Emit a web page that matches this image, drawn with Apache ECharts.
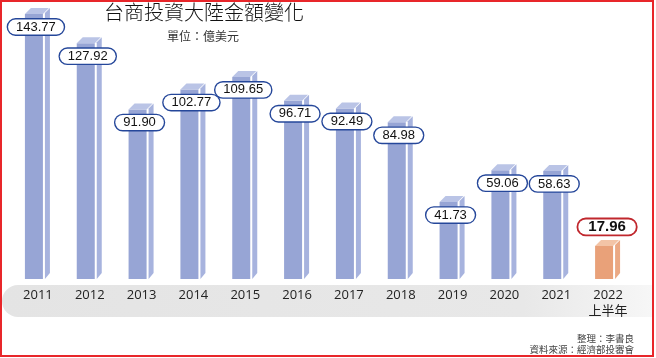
<!DOCTYPE html>
<html>
<head>
<meta charset="utf-8">
<script src="https://cdn.jsdelivr.net/npm/echarts@6/dist/echarts.min.js"></script>
<style>
  html, body { margin: 0; padding: 0; background: #fff; }
  #chart { width: 656px; height: 358px; }
</style>
</head>
<body>
<div id="chart"></div>
<script>
// 資料
var years = ['2011', '2012', '2013', '2014', '2015', '2016', '2017', '2018', '2019', '2020', '2021', '2022\n上半年'];
var values = [143.77, 127.92, 91.90, 102.77, 109.65, 96.71, 92.49, 84.98, 41.73, 59.06, 58.63, 17.96];

var blue = { front: '#97a5d5', side: '#a7b3de', top: '#bac4e6' };
var orange = { front: '#e9a179', side: '#eba984', top: '#f3c4a6' };

// 立體柱 + 標籤
function renderBar(params, api) {
  var i = api.value(0);
  var v = api.value(1);
  var top = api.coord([i, v]);
  var base = api.coord([i, 0]);
  var c = top[0], yt = top[1], yb = base[1];
  var last = i === values.length - 1;
  var col = last ? orange : blue;
  var label = last ? {
    type: 'text', x: c - 1, y: yt - 19, z2: 10,
    style: {
      text: v.toFixed(2), align: 'center', verticalAlign: 'middle',
      font: 'bold 15px "Liberation Sans", Arial', fill: '#111',
      backgroundColor: '#fff', borderColor: '#c0272d', borderWidth: 1.8,
      borderRadius: 8, padding: [0, 10]
    }
  } : {
    type: 'text', x: c - 2, y: yt + 13, z2: 10,
    style: {
      text: v.toFixed(2), align: 'center', verticalAlign: 'middle',
      font: '13px "Liberation Sans", Arial', fill: '#111',
      backgroundColor: '#fff', borderColor: '#25479a', borderWidth: 1.4,
      borderRadius: 8, padding: [1, 8]
    }
  };
  return {
    type: 'group',
    children: [
      { type: 'rect', shape: { x: c - 13, y: yt, width: 18, height: yb - yt }, style: { fill: col.front } },
      { type: 'polygon', shape: { points: [[c + 7, yt - 1], [c + 12, yt - 6], [c + 12, yb - 6], [c + 7, yb]] }, style: { fill: col.side } },
      { type: 'polygon', shape: { points: [[c - 13, yt], [c + 5, yt], [c + 11, yt - 6], [c - 7, yt - 6]] }, style: { fill: col.top } },
      label
    ]
  };
}

var chart = echarts.init(document.getElementById('chart'));
var option = {
  animation: false,
  grid: { left: 12, right: 22, top: 2.5, bottom: 79 },
  xAxis: {
    type: 'category',
    data: years,
    axisLine: { show: false },
    axisTick: { show: false },
    axisLabel: {
      margin: 8, color: '#222', fontSize: 13, lineHeight: 16,
      fontFamily: '"Open Sans", "Noto Sans CJK TC", sans-serif'
    },
    z: 5
  },
  yAxis: { type: 'value', min: 0, max: 150, show: false, splitLine: { show: false } },
  graphic: [
    // 底部灰色帶
    {
      type: 'rect', z: -10,
      shape: { x: 2, y: 285, width: 652, height: 32, r: [16, 0, 0, 16] },
      style: {
        fill: new echarts.graphic.LinearGradient(0, 0, 1, 0, [
          { offset: 0, color: '#e4e4e4' },
          { offset: 0.8, color: '#e8e8e8' },
          { offset: 1, color: '#f7f7f7' }
        ])
      }
    },
    {
      type: 'text', z: 20, x: 204, y: 12,
      style: {
        text: '台商投資大陸金額變化', align: 'center', verticalAlign: 'middle',
        font: '300 20px "Noto Sans CJK TC"', fill: '#111'
      }
    },
    {
      type: 'text', z: 20, x: 203, y: 36,
      style: {
        text: '單位：億美元', align: 'center', verticalAlign: 'middle',
        font: '12px "Noto Sans CJK TC"', fill: '#333'
      }
    },
    {
      type: 'text', z: 20, x: 634, y: 338,
      style: {
        text: '整理：李書良', align: 'right', verticalAlign: 'middle',
        font: '9.5px "Noto Sans CJK TC"', fill: '#444'
      }
    },
    {
      type: 'text', z: 20, x: 634, y: 349,
      style: {
        text: '資料來源：經濟部投審會', align: 'right', verticalAlign: 'middle',
        font: '9.5px "Noto Sans CJK TC"', fill: '#444'
      }
    },
    // 紅框
    {
      type: 'rect', z: 30,
      shape: { x: 1, y: 1, width: 652, height: 355 },
      style: { fill: 'none', stroke: '#e8262a', lineWidth: 2 }
    }
  ],
  series: [{
    type: 'custom',
    renderItem: renderBar,
    encode: { x: 0, y: 1 },
    data: values.map(function (v, i) { return [i, v]; }),
    z: 3
  }]
};
chart.setOption(option);
</script>
</body>
</html>
